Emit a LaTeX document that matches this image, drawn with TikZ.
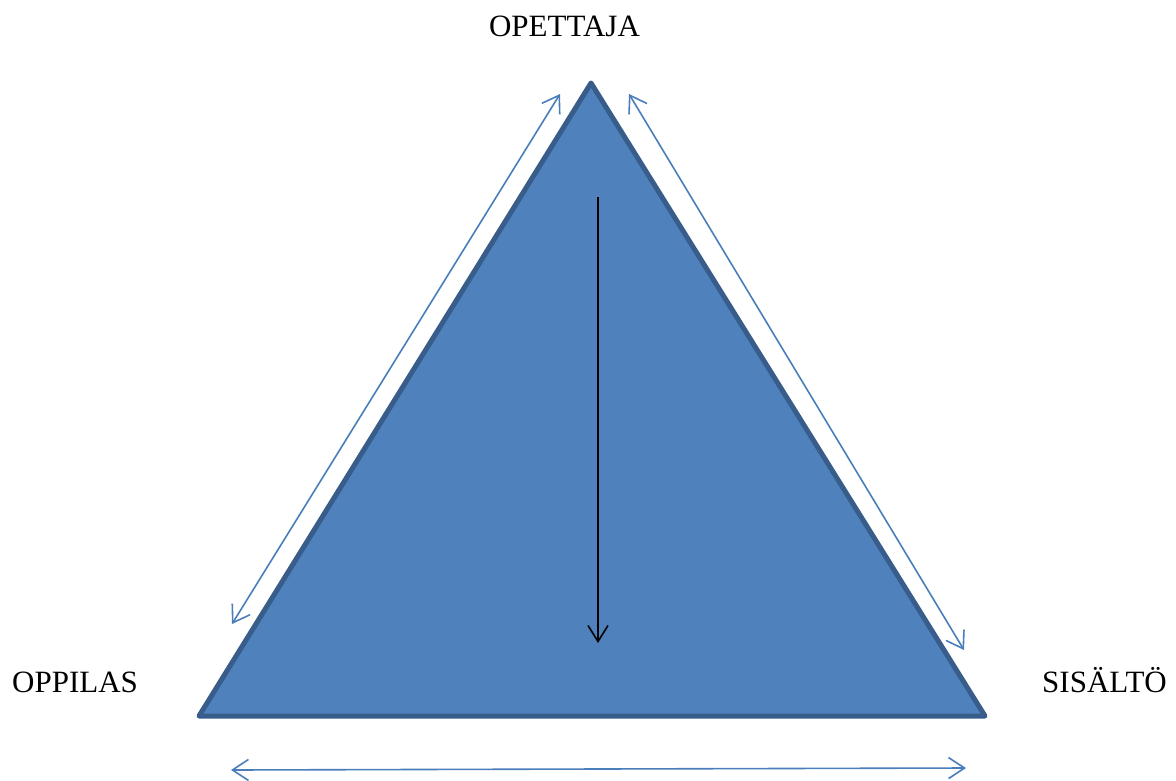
\documentclass[tikz,border=0pt]{standalone}
\usepackage{fontspec}
\setmainfont{Liberation Serif}
\usetikzlibrary{arrows.meta, positioning}
\definecolor{trifill}{HTML}{4F81BD}
\definecolor{triedge}{HTML}{385D8A}
\definecolor{linkblue}{HTML}{4A7EBB}

\begin{document}
\begin{tikzpicture}[
    x=1pt, y=-1pt,
    corner/.style={inner sep=0pt, font=\fontsize{31}{36}\selectfont, text=black},
    tri/.style={fill=trifill, draw=triedge, line width=5pt, line join=round},
    link/.style={{Straight Barb[length=16pt, width=21pt]}-{Straight Barb[length=16pt, width=21pt]}, linkblue, line width=1.6pt},
    flow/.style={-{Straight Barb[length=16pt, width=20pt]}, black, line width=1.6pt},
  ]
  \useasboundingbox (0,0) rectangle (1176,780);

  % corners of the triangle
  \coordinate (top) at (591,83);
  \coordinate (bl) at (199,716);
  \coordinate (br) at (985,716);
  \draw[tri] (top) -- (bl) -- (br) -- cycle;

  \node[corner, anchor=base] (opettaja) at (564.5,36) {OPETTAJA};
  \node[corner, anchor=base west] (oppilas) at (12,692) {OPPILAS};
  \node[corner, anchor=base west] (sisalto) at (1042,692) {SISÄLTÖ};

  % ends of the relation arrows
  \coordinate (l1) at (560,94);
  \coordinate (l2) at (232,624);
  \coordinate (r1) at (629,94);
  \coordinate (r2) at (964,650);
  \coordinate (b1) at (231,770);
  \coordinate (b2) at (966,768);
  \coordinate (d1) at (598,197);
  \coordinate (d2) at (598,643);

  \draw[link] (l2) -- (l1);
  \draw[link] (r1) -- (r2);
  \draw[link] (b1) -- (b2);
  \draw[flow] (d1) -- (d2);
\end{tikzpicture}
\end{document}
